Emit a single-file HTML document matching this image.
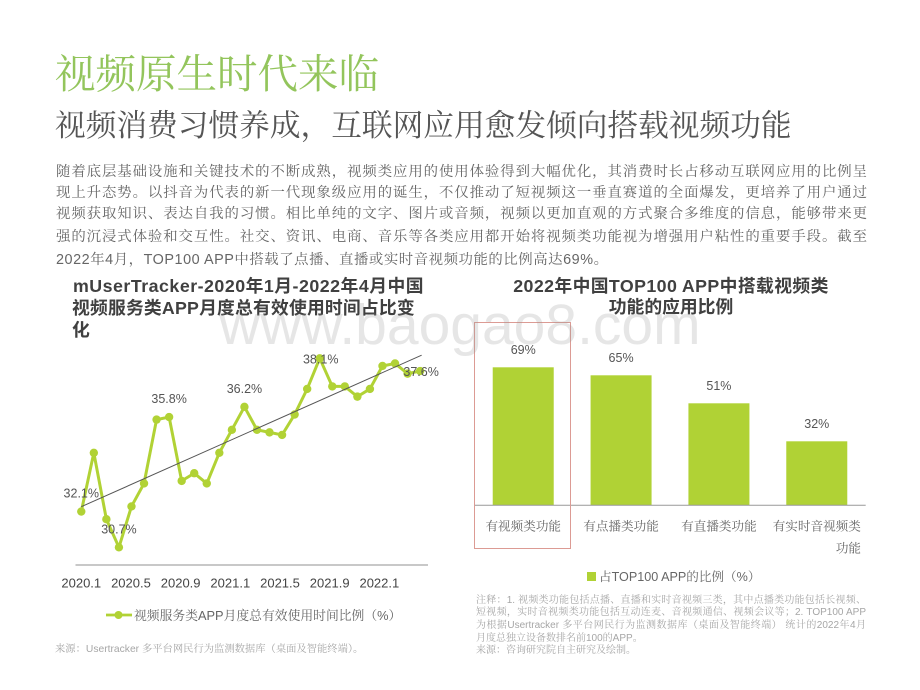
<!DOCTYPE html>
<html lang="zh-CN">
<head>
<meta charset="utf-8">
<title>视频原生时代来临</title>
<style>
html,body{margin:0;padding:0;background:#fff;}
#page{position:relative;width:920px;height:690px;overflow:hidden;background:#fff;font-family:"Liberation Sans","Noto Serif CJK SC",serif;}
.t{position:absolute;white-space:nowrap;}
.j{text-align:justify;text-align-last:justify;white-space:normal;}
#main-title{left:55px;top:48px;font-size:40.5px;line-height:52px;color:#93c55c;}
#sub-title{left:55px;top:105px;font-size:30.7px;line-height:42px;color:#555;}
.body{left:56px;width:811px;height:23px;font-size:14.4px;line-height:23px;color:#666;}
.ct{font-family:"Liberation Sans","Noto Sans CJK SC",sans-serif;font-weight:700;font-size:17.8px;line-height:22px;color:#404040;}
.note{left:476px;width:390px;font-size:10px;line-height:12px;color:#a6a6a6;}
svg{position:absolute;left:0;top:0;}
svg text{font-family:"Liberation Sans","Noto Serif CJK SC",serif;}
#watermark{left:219px;top:285px;font-family:"Liberation Sans",sans-serif;font-size:57px;line-height:80px;color:rgba(150,150,150,.24);}
</style>
</head>
<body>
<div id="page">
  <div id="main-title" class="t">视频原生时代来临</div>
  <div id="sub-title" class="t">视频消费习惯养成，互联网应用愈发倾向搭载视频功能</div>
  <div class="t body j" style="top:160.5px">随着底层基础设施和关键技术的不断成熟，视频类应用的使用体验得到大幅优化，其消费时长占移动互联网应用的比例呈</div>
  <div class="t body j" style="top:181.5px">现上升态势。以抖音为代表的新一代现象级应用的诞生，不仅推动了短视频这一垂直赛道的全面爆发，更培养了用户通过</div>
  <div class="t body j" style="top:203px">视频获取知识、表达自我的习惯。相比单纯的文字、图片或音频，视频以更加直观的方式聚合多维度的信息，能够带来更</div>
  <div class="t body j" style="top:225.5px">强的沉浸式体验和交互性。社交、资讯、电商、音乐等各类应用都开始将视频类功能视为增强用户粘性的重要手段。截至</div>
  <div class="t body" style="top:248.5px;width:auto;letter-spacing:.55px">2022年4月，TOP100 APP中搭载了点播、直播或实时音视频功能的比例高达69%。</div>

  <div class="t ct" style="left:73px;top:275px;letter-spacing:.5px">mUserTracker-2020年1月-2022年4月中国</div>
  <div class="t ct" style="left:72px;top:297px;letter-spacing:.2px">视频服务类APP月度总有效使用时间占比变</div>
  <div class="t ct" style="left:72px;top:319px">化</div>
  <div class="t ct" style="left:471px;width:400px;text-align:center;top:275px;letter-spacing:.4px">2022年中国TOP100 APP中搭载视频类</div>
  <div class="t ct" style="left:471px;width:400px;text-align:center;top:296px">功能的应用比例</div>

  <svg id="line-chart" width="920" height="690"></svg>
  <svg id="bar-chart" width="920" height="690"></svg>

  <div class="t" style="left:55px;top:643px;font-size:10.3px;line-height:13px;color:#a6a6a6">来源：Usertracker 多平台网民行为监测数据库（桌面及智能终端）。</div>
  <div class="t note j" style="top:595px">注释：1. 视频类功能包括点播、直播和实时音视频三类，其中点播类功能包括长视频、</div>
  <div class="t note j" style="top:607px">短视频，实时音视频类功能包括互动连麦、音视频通信、视频会议等；2. TOP100 APP</div>
  <div class="t note j" style="top:620px">为根据Usertracker 多平台网民行为监测数据库（桌面及智能终端） 统计的2022年4月</div>
  <div class="t note" style="top:633px">月度总独立设备数排名前100的APP。</div>
  <div class="t note" style="top:645px">来源：咨询研究院自主研究及绘制。</div>

  <div id="watermark" class="t">www.baogao8.com</div>
</div>
<script>
var lineCategories = ['2020.1','2020.2','2020.3','2020.4','2020.5','2020.6','2020.7','2020.8','2020.9','2020.10','2020.11','2020.12','2021.1','2021.2','2021.3','2021.4','2021.5','2021.6','2021.7','2021.8','2021.9','2021.10','2021.11','2021.12','2022.1','2022.2','2022.3','2022.4'];
var lineValues = [32.1,34.4,31.8,30.7,32.3,33.2,35.7,35.8,33.3,33.6,33.2,34.4,35.3,36.2,35.3,35.2,35.1,35.9,36.9,38.1,37.0,37.0,36.6,36.9,37.8,37.9,37.5,37.6];
var lineLabelCategories = ['2020.1','2020.4','2020.8','2021.2','2021.8','2022.4'];
var lineLabelCentered = ['2021.8','2022.4'];
var lineTickStep = 4;
var lineLegend = '视频服务类APP月度总有效使用时间比例（%）';

var barCategories = ['有视频类功能','有点播类功能','有直播类功能','有实时音视频类'];
var barValues = [69,65,51,32];
var barLegend = '占TOP100 APP的比例（%）';

var NS = 'http://www.w3.org/2000/svg';
function mk(parent, tag, attrs, text) {
  var el = document.createElementNS(NS, tag);
  for (var k in attrs) el.setAttribute(k, attrs[k]);
  if (text !== undefined) el.textContent = text;
  parent.appendChild(el);
  return el;
}

/* ---------- line chart ---------- */
var lineSvg = document.getElementById('line-chart');
var lineLeft = 75, lineBand = 12.55, lineBase = 565;
function lx(i) { return lineLeft + lineBand * (i + 0.5); }
function tickX(i) { return lx(0) + i * 12.42; }
function ly(v) { return 547.3 - (v - 30.7) * 25.54; }

var lineAxis = mk(lineSvg, 'line', {x1: 75.5, x2: 428, y1: lineBase, y2: lineBase, stroke: '#a6a6a6', 'stroke-width': 1.2});



var linePts = lineValues.map(function (v, i) { return lx(i).toFixed(2) + ',' + ly(v).toFixed(2); }).join(' ');
var seriesLine = mk(lineSvg, 'polyline', {points: linePts, fill: 'none', stroke: '#b1d235', 'stroke-width': 3, 'stroke-linejoin': 'round'});



lineValues.forEach(function (v, i) {
  var dot = mk(lineSvg, 'circle', {cx: lx(i), cy: ly(v), r: 4.2, fill: '#b1d235'});
  
  
});

/* least-squares trendline derived from the series */
var n = lineValues.length, sx = 0, sy = 0, sxx = 0, sxy = 0;
lineValues.forEach(function (v, i) { sx += i; sy += v; sxx += i * i; sxy += i * v; });
var slope = (n * sxy - sx * sy) / (n * sxx - sx * sx);
var intercept = (sy - slope * sx) / n;
var trend = mk(lineSvg, 'line', {x1: lx(0), y1: ly(intercept), x2: lx(n - 1) + 1.5, y2: ly(intercept + slope * (n - 1 + 1.5 / lineBand)), stroke: '#555', 'stroke-width': 1});



lineLabelCategories.forEach(function (cat) {
  var i = lineCategories.indexOf(cat);
  var centered = lineLabelCentered.indexOf(cat) >= 0;
  var label = mk(lineSvg, 'text', {x: lx(i) + (centered ? 1 : 0), y: ly(lineValues[i]) + (centered ? 5 : -14), 'text-anchor': 'middle', 'font-size': 12.5, fill: '#555'}, lineValues[i].toFixed(1) + '%');
  
  
});

lineCategories.forEach(function (cat, i) {
  if (i % lineTickStep !== 0) return;
  var tick = mk(lineSvg, 'text', {x: tickX(i), y: 587.5, 'text-anchor': 'middle', 'font-size': 13, fill: '#444'}, cat);
  
  
});

var legLine = mk(lineSvg, 'line', {x1: 106, x2: 132, y1: 615, y2: 615, stroke: '#b1d235', 'stroke-width': 2.8});


var legDot = mk(lineSvg, 'circle', {cx: 118.5, cy: 615, r: 4, fill: '#b1d235'});


var legText = mk(lineSvg, 'text', {x: 134, y: 620, 'font-size': 12.8, fill: '#666'}, lineLegend);



/* ---------- bar chart ---------- */
var barSvg = document.getElementById('bar-chart');
var barLeft = 474.3, barRight = 865.7, barBase = 505.3, barWidth = 61;
var barBand = (barRight - barLeft) / barCategories.length;
function bx(i) { return barLeft + barBand * (i + 0.5); }
function bh(v) { return v * 2; }

barValues.forEach(function (v, i) {
  var bar = mk(barSvg, 'rect', {x: bx(i) - barWidth / 2, y: barBase - bh(v), width: barWidth, height: bh(v), fill: '#b0d235'});
  
  
  var val = mk(barSvg, 'text', {x: bx(i), y: barBase - bh(v) - 13.5, 'text-anchor': 'middle', 'font-size': 12.5, fill: '#555'}, v + '%');
  
  
  var cat = mk(barSvg, 'text', {x: bx(i), y: 530.5, 'text-anchor': 'middle', 'font-size': 12.6, fill: '#666'}, barCategories[i]);
  
  
});

var barWrap = mk(barSvg, 'text', {x: 861, y: 552.5, 'text-anchor': 'end', 'font-size': 12.6, fill: '#666'}, '功能');



var barAxis = mk(barSvg, 'line', {x1: barLeft, x2: barRight, y1: barBase, y2: barBase, stroke: '#999', 'stroke-width': 1});



var highlight = mk(barSvg, 'rect', {x: 474.5, y: 322.5, width: 96, height: 226, fill: 'none', stroke: '#dc9b94', 'stroke-width': 1});



var barSwatch = mk(barSvg, 'rect', {x: 587, y: 572, width: 9, height: 9, fill: '#b0d235'});


var barLegText = mk(barSvg, 'text', {x: 599, y: 581, 'font-size': 12.6, fill: '#666'}, barLegend);


</script>
</body>
</html>
